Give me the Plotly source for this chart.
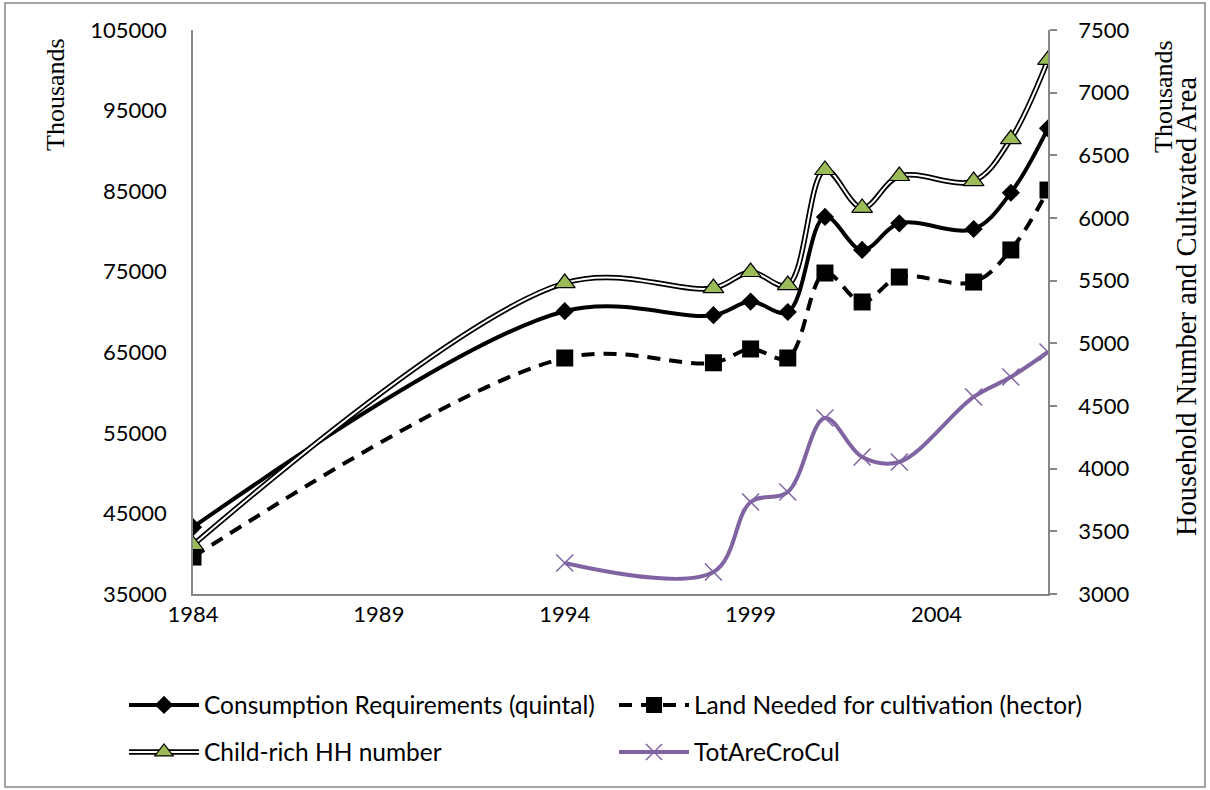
import plotly.graph_objects as go

years = [1984, 1994, 1998, 1999, 2000, 2001, 2002, 2003, 2005, 2006, 2007]
consumption = [43300, 70100, 69600, 71300, 70000, 81800, 77700, 81000, 80300, 84800, 92800]
land_needed = [3295, 4883, 4845, 4955, 4883, 5561, 5330, 5529, 5489, 5745, 6223]
child_rich = [3391, 5481, 5441, 5569, 5465, 6383, 6080, 6335, 6295, 6630, 7261]
tot_years = [1994, 1998, 1999, 2000, 2001, 2002, 2003, 2005, 2006, 2007]
tot_area = [3247, 3175, 3734, 3814, 4404, 4093, 4053, 4572, 4731, 4931]

left_ticks = [35000, 45000, 55000, 65000, 75000, 85000, 95000, 105000]
right_ticks = [3000, 3500, 4000, 4500, 5000, 5500, 6000, 6500, 7000, 7500]
x_ticks = [1984, 1989, 1994, 1999, 2004]

W, H = 1210, 790
L, R, T, B = 193, 162, 30, 196
PW, PH = W - L - R, H - T - B

def px(xp):
    return (xp - L) / PW

def py(yp):
    return (H - B - yp) / PH

SANS = "Lato, 'Open Sans', sans-serif"
SERIF = "'Liberation Serif', 'Times New Roman', serif"
PURPLE = "#8064A2"
GREEN = "#9BBB59"
SM = 1.0

fig = go.Figure()

fig.add_trace(go.Scatter(
    x=years, y=consumption, name="Consumption Requirements (quintal)",
    mode="lines+markers", line=dict(color="black", width=4, shape="spline", smoothing=SM),
    marker=dict(symbol="diamond", size=14, color="black"),
    legend="legend", yaxis="y"))

fig.add_trace(go.Scatter(
    x=years, y=land_needed, name="Land Needed for cultivation (hector)",
    mode="lines+markers", line=dict(color="black", width=4, dash="13px,9px", shape="spline", smoothing=SM),
    marker=dict(symbol="square", size=17, color="black"),
    legend="legend", yaxis="y2"))

fig.add_trace(go.Scatter(
    x=years, y=child_rich, name="Child-rich HH number", showlegend=False,
    mode="lines", line=dict(color="black", width=5.5, shape="spline", smoothing=SM),
    hoverinfo="skip", yaxis="y2"))

fig.add_trace(go.Scatter(
    x=years, y=child_rich, name="Child-rich HH number",
    mode="lines+markers", line=dict(color="white", width=2, shape="spline", smoothing=SM),
    marker=dict(symbol="triangle-up", size=18, color=GREEN, line=dict(color="black", width=1.2)),
    legend="legend2", yaxis="y2"))

fig.add_trace(go.Scatter(
    x=tot_years, y=tot_area, name="TotAreCroCul",
    mode="lines+markers", line=dict(color=PURPLE, width=4, shape="spline", smoothing=SM),
    marker=dict(symbol="x-thin", size=17, color=PURPLE, line=dict(color=PURPLE, width=1.5)),
    legend="legend2", yaxis="y2"))

axis_color = "#868686"
TICKF = dict(family=SANS, size=22)
LEGF = dict(family=SANS, size=24.5)
LEG_X = px(124)
fig.update_layout(
    width=W, height=H,
    margin=dict(l=L, r=R, t=T, b=B, autoexpand=False),
    paper_bgcolor="white", plot_bgcolor="white",
    font=dict(family=SANS, size=22, color="black"),
    xaxis=dict(range=[1984, 2007], tickvals=x_ticks, showgrid=False, zeroline=False,
               showline=True, linecolor=axis_color, linewidth=1.5, ticks="",
               tickfont=TICKF, ticklabelstandoff=0),
    yaxis=dict(range=[35000, 105000], tickvals=left_ticks, tickformat="d", showgrid=False,
               zeroline=False, showline=True, linecolor=axis_color, linewidth=1.5, ticks="",
               tickfont=TICKF, ticklabelstandoff=20),
    yaxis2=dict(range=[3000, 7500], tickvals=right_ticks, tickformat="d", overlaying="y",
                side="right", showgrid=False, zeroline=False, showline=True,
                linecolor=axis_color, linewidth=1.5, ticks="outside", ticklen=7,
                tickcolor=axis_color, tickwidth=1.5, tickfont=TICKF, ticklabelstandoff=17),
    legend=dict(orientation="h", x=LEG_X, y=py(705), xanchor="left", yanchor="middle",
                entrywidth=405, entrywidthmode="pixels", itemwidth=70,
                font=LEGF, bgcolor="rgba(0,0,0,0)"),
    legend2=dict(orientation="h", x=LEG_X, y=py(752), xanchor="left", yanchor="middle",
                 entrywidth=405, entrywidthmode="pixels", itemwidth=70,
                 font=LEGF, bgcolor="rgba(0,0,0,0)"),
    showlegend=True,
)

fig.add_annotation(text="Thousands", x=px(55), y=py(95), xref="paper", yref="paper",
                   xanchor="center", yanchor="middle",
                   textangle=-90, showarrow=False, font=dict(family=SERIF, size=26))
fig.add_annotation(text="Thousands", x=px(1164), y=py(97), xref="paper", yref="paper",
                   xanchor="center", yanchor="middle",
                   textangle=-90, showarrow=False, font=dict(family=SERIF, size=26))
fig.add_annotation(text="Household Number and Cultivated Area", x=px(1186), y=py(307),
                   xref="paper", yref="paper", xanchor="center", yanchor="middle",
                   textangle=-90, showarrow=False, font=dict(family=SERIF, size=28.5))

# outline behind the white legend line of the double-line series
fig.add_shape(type="line", xref="paper", yref="paper",
              x0=px(129), x1=px(199), y0=py(752), y1=py(752),
              line=dict(color="black", width=5.5), layer="above")

fig.add_shape(type="rect", xref="paper", yref="paper",
              x0=px(5), x1=px(1205), y0=py(787), y1=py(3),
              line=dict(color=axis_color, width=1.5), fillcolor="rgba(0,0,0,0)", layer="below")

fig.write_html("out.html", config={"displayModeBar": False},
               post_script="document.body.style.margin='0px';")
